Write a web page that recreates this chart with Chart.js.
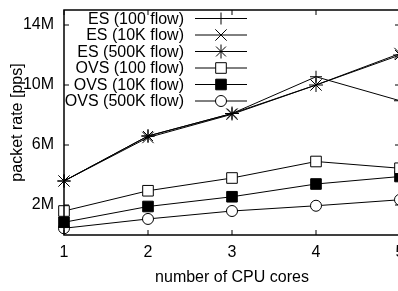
<!DOCTYPE html>
<html>
<head>
<meta charset="utf-8">
<script src="https://cdn.jsdelivr.net/npm/chart.js@4/dist/chart.umd.min.js"></script>
<style>
  html, body { margin: 0; padding: 0; background: #fff; overflow: hidden; }
  #wrap { position: relative; width: 400px; height: 291px; }
</style>
</head>
<body>
<div id="wrap"><canvas id="rateChart"></canvas></div>
<script>
// number of cores on x, packet rate in millions of pps on y
const cores = ['1', '2', '3', '4', '5'];
const yTicks = [2, 6, 10, 14];

const es100 = [3.6, 6.6, 8.1, 10.55, 8.95];
const es10k = [3.6, 6.5, 8.05, 10.0, 12.1];
const es500k = [3.6, 6.6, 8.1, 10.0, 12.0];
const ovs100 = [1.6, 2.95, 3.8, 4.9, 4.45];
const ovs10k = [0.85, 1.9, 2.55, 3.4, 3.9];
const ovs500k = [0.45, 1.07, 1.6, 1.95, 2.35];

const FONT = "'Liberation Sans', Arial, sans-serif";

function series(label, data, style, radius, fill) {
  return {
    label: label,
    data: data,
    borderColor: '#000',
    borderWidth: 1,
    pointStyle: style,
    pointRadius: radius,
    pointHoverRadius: radius,
    pointBorderColor: '#000',
    pointBorderWidth: 1,
    pointBackgroundColor: fill,
    tension: 0,
    fill: false
  };
}

const datasets = [
  series('ES (100 flow)', es100, 'cross', 6, '#000'),
  series('ES (10K flow)', es10k, 'crossRot', 8, '#000'),
  series('ES (500K flow)', es500k, 'star', 7, '#000'),
  series('OVS (100 flow)', ovs100, 'rect', 7.5, '#fff'),
  series('OVS (10K flow)', ovs10k, 'rect', 7.5, '#000'),
  series('OVS (500K flow)', ovs500k, 'circle', 5.5, '#fff')
];

// border box, inward ticks and gnuplot style key
const frame = {
  id: 'frame',
  afterDatasetsDraw(chart) {
    const ctx = chart.ctx;
    const a = chart.chartArea;
    const xs = chart.scales.x, ys = chart.scales.y;
    ctx.save();
    ctx.strokeStyle = '#000';
    ctx.lineWidth = 1;
    ctx.beginPath();
    xs.ticks.forEach((t, i) => {
      const px = xs.getPixelForTick(i);
      ctx.moveTo(px, a.bottom); ctx.lineTo(px, a.bottom - 5);
      ctx.moveTo(px, a.top); ctx.lineTo(px, a.top + 5);
    });
    ys.ticks.forEach(t => {
      const py = ys.getPixelForValue(t.value);
      ctx.moveTo(a.left, py); ctx.lineTo(a.left + 5, py);
      ctx.moveTo(a.right, py); ctx.lineTo(a.right - 5, py);
    });
    ctx.stroke();
    ctx.lineWidth = 1.5;
    ctx.strokeRect(a.left, a.top, a.right - a.left, a.bottom - a.top);

    // key
    ctx.font = '16px ' + FONT;
    ctx.textAlign = 'right';
    ctx.textBaseline = 'middle';
    chart.data.datasets.forEach((ds, i) => {
      const y = 18.5 + i * 16.5;
      ctx.fillStyle = '#000';
      ctx.fillText(ds.label, 184, y + 1);
      ctx.lineWidth = 1;
      ctx.beginPath();
      ctx.moveTo(195, y); ctx.lineTo(247, y);
      ctx.stroke();
      ctx.fillStyle = ds.pointBackgroundColor;
      Chart.helpers.drawPoint(ctx, {
        pointStyle: ds.pointStyle,
        radius: ds.pointRadius,
        rotation: 0,
        borderWidth: 1
      }, 221, y);
    });
    ctx.restore();
  }
};

new Chart(document.getElementById('rateChart'), {
  type: 'line',
  data: { labels: cores, datasets: datasets },
  plugins: [frame],
  options: {
    responsive: true,
    maintainAspectRatio: false,
    animation: false,
    events: [],
    layout: { autoPadding: false, padding: { top: 10, left: 0, right: 0, bottom: 0 } },
    plugins: { legend: { display: false }, tooltip: { enabled: false } },
    scales: {
      x: {
        type: 'category',
        offset: false,
        grid: { display: false, drawTicks: false },
        border: { display: false },
        ticks: { color: '#000', padding: 8, maxRotation: 0, autoSkip: false,
                 font: { family: FONT, size: 16 } },
        title: { display: true, text: 'number of CPU cores', color: '#000',
                 padding: { top: 0, bottom: 4 }, font: { family: FONT, size: 16 } },
        afterFit(s) { s.height = 56; s.paddingLeft = 0; s.paddingRight = 0; }
      },
      y: {
        min: 0,
        max: 15,
        grid: { display: false, drawTicks: false },
        border: { display: false },
        afterBuildTicks(s) { s.ticks = yTicks.map(v => ({ value: v })); },
        ticks: { color: '#000', padding: 10, font: { family: FONT, size: 16 },
                 callback: v => v + 'M' },
        title: { display: true, text: 'packet rate [pps]', color: '#000',
                 padding: { top: 8, bottom: 0 }, font: { family: FONT, size: 16 } },
        afterFit(s) { s.width = 64; s.paddingTop = 0; s.paddingBottom = 0; }
      }
    }
  }
});
</script>
</body>
</html>
